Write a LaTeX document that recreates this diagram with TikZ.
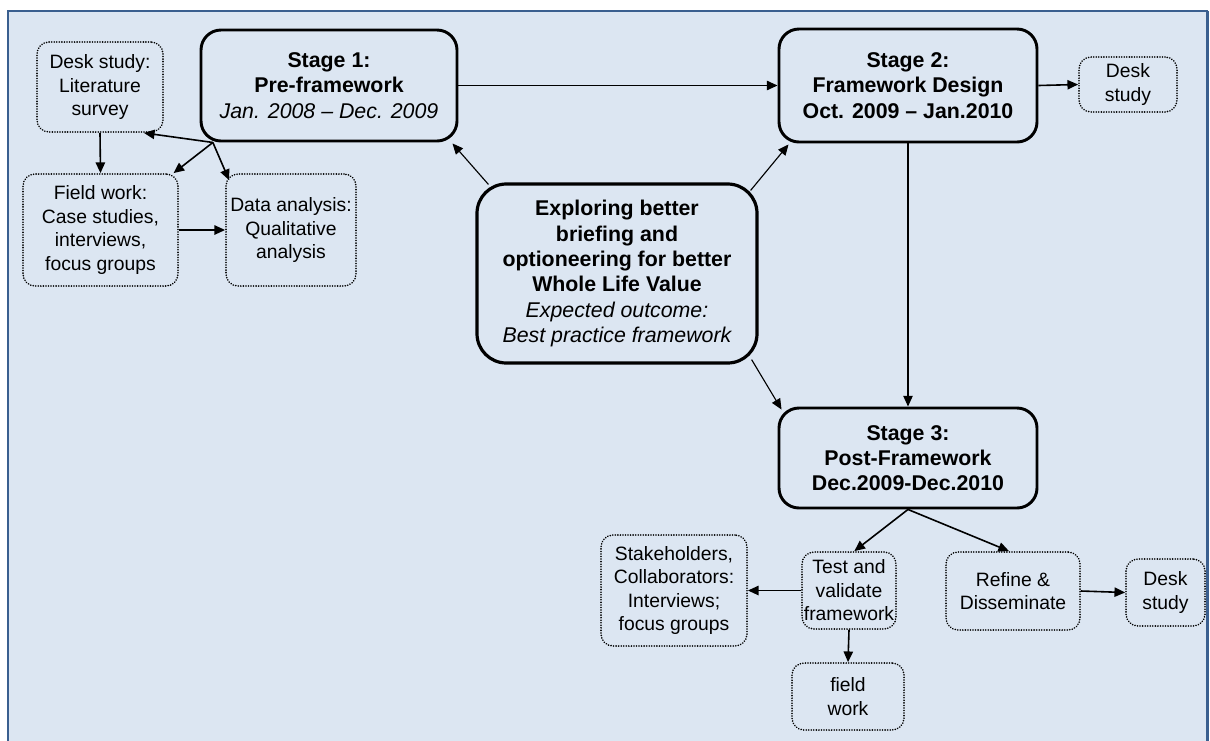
\documentclass[tikz,border=0pt]{standalone}
\usepackage{fontspec}
\setmainfont{Liberation Sans}
\usetikzlibrary{arrows.meta}
\definecolor{panelfill}{HTML}{DCE6F2}
\definecolor{panelline}{HTML}{3A5F8F}
\begin{document}
\begin{tikzpicture}[x=0.75pt,y=-0.75pt,
  sz/.style 2 args={minimum width={#1*0.75pt},minimum height={#2*0.75pt}},
  stagebox/.style={draw=black, line width=2.2pt, rounded corners=15pt, align=center,
    inner sep=0pt, font=\fontsize{16}{19}\selectfont\bfseries},
  hubbox/.style={stagebox, line width=2.4pt, rounded corners=22pt},
  taskbox/.style={draw=black, line width=1.35pt, line cap=round,
    dash pattern=on 0.01pt off 1.9pt, rounded corners=9pt, align=center,
    inner sep=0pt, font=\fontsize{14.5}{17.6}\selectfont},
  link/.style={line width=1.2pt, -{Triangle[length=8pt,width=7pt]}},
  thinlink/.style={line width=0.85pt, -{Triangle[length=8pt,width=7pt]}},
]
\useasboundingbox (0,0) rectangle (1210,740);
\clip (0,0) rectangle (1210,740);

% background panel
\fill[panelfill] (8,11) rectangle (1207,760);
\draw[panelline, line width=1.5pt] (8,760) -- (8,11) -- (1207,11) -- (1207,760);
\draw[panelline, line width=2.2pt] (1207.5,11) -- (1207.5,760);

% stages
\node[stagebox, sz={256}{111}] (s1) at (329,85.5)
  {Stage 1:\\Pre-framework\\{\mdseries\itshape Jan. 2008 -- Dec. 2009}};
\node[stagebox, sz={258}{113}] (s2) at (908,85.5)
  {Stage 2:\\Framework Design\\Oct. 2009 -- Jan.2010};
\node[stagebox, sz={258}{100}] (s3) at (908,458)
  {Stage 3:\\Post-Framework\\Dec.2009-Dec.2010};
\node[hubbox, sz={280}{179}] (hub) at (617,273.5)
  {Exploring better\\briefing and\\optioneering for better\\Whole Life Value\\
   {\mdseries\itshape Expected outcome:}\\{\mdseries\itshape Best practice framework}};

% stage 1 tasks
\node[taskbox, sz={126}{90}] (desk1) at (100,87) {Desk study:\\Literature\\survey};
\node[taskbox, sz={155}{112}] (field1) at (100.5,230)
  {Field work:\\Case studies,\\interviews,\\focus groups};
\node[taskbox, sz={130}{112}] (data1) at (291,230) {Data analysis:\\Qualitative\\analysis};

% stage 2 task
\node[taskbox, sz={98}{55}] (desk2) at (1128,84.5) {Desk\\study};

% stage 3 tasks
\node[taskbox, sz={146}{111}] (stake) at (674,590.5)
  {Stakeholders,\\Collaborators:\\Interviews;\\focus groups};
\node[taskbox, sz={94}{77}] (test) at (849,590.5) {Test and\\validate\\framework};
\node[taskbox, sz={112}{67}] (fieldw) at (848,696.5) {field\\work};
\node[taskbox, sz={134}{78}] (refine) at (1013,591) {Refine \&\\Disseminate};
\node[taskbox, sz={79}{67}] (desk3) at (1165.5,592.5) {Desk\\study};

% connectors
\draw[link] (s1.east) -- (s2.west);
\draw[link] (s2.east) -- (desk2.west);
\draw[thinlink] (s2.south) -- (s3.north);
\draw[thinlink] ([shift={(13,2)}]hub.north west) -- ([shift={(-6,1)}]s1.south east);
\draw[thinlink] ([shift={(-8,8)}]hub.north east) -- ([shift={(11,1)}]s2.south west);
\draw[thinlink] ([shift={(-7,-5)}]hub.south east) -- ([shift={(4,3)}]s3.north west);

\coordinate (s1out) at ([xshift=10]s1.south west);
\draw[link] (s1out) -- ([xshift=-15]desk1.south east);
\draw[link] (s1out) -- (field1);
\draw[link] (s1out) -- ([shift={(4,7)}]data1.north west);
\draw[link] (desk1.south) -- (field1.north);
\draw[link] (field1.east) -- (data1.west);

\draw[link] (s3.south) -- ([xshift=4]test.north);
\draw[link] (s3.south) -- ([xshift=-3]refine.north);
\draw[link] (test.west) -- (stake.east);
\draw[link] (test.south) -- (fieldw.north);
\draw[link] (refine.east) -- (desk3.west);
\end{tikzpicture}
\end{document}
